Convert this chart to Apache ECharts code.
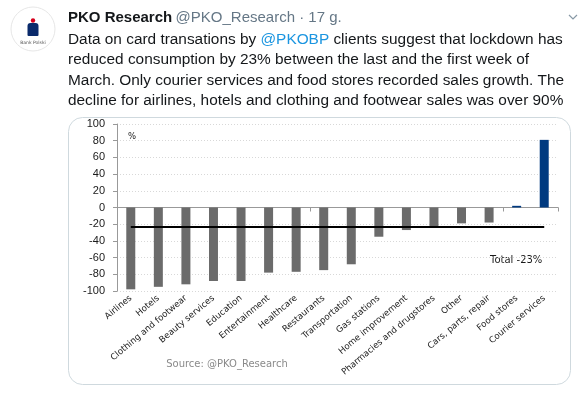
<!DOCTYPE html>
<html><head><meta charset="utf-8">
<script src="https://cdn.jsdelivr.net/npm/echarts@6/dist/echarts.min.js"></script>
<style>html,body{margin:0;padding:0;background:#fff}#c{width:584px;height:393px}</style>
</head><body><div id="c"></div>
<script>
const categories = ["Airlines","Hotels","Clothing and footwear","Beauty services","Education","Entertainment","Healthcare","Restaurants","Transportation","Gas stations","Home improvement","Pharmacies and drugstores","Other","Cars, parts, repair","Food stores","Courier services"];
const values = [-98,-95,-92,-88,-88,-78,-77,-75,-68,-35,-27,-23,-19,-18,2,81];
const total = -23;
const yTicks = [-100,-80,-60,-40,-20,0,20,40,60,80,100];

const chart = echarts.init(document.getElementById('c'), null, {renderer:'canvas'});
const barData = values.map(v => ({value:v, itemStyle:{color: v > 0 ? '#003a80' : '#6b6b6b'}}));
const tweetFont = '"Liberation Sans", Arial, sans-serif';
const lines = [
  ['Data on card transations by ', '@PKOBP', ' clients suggest that lockdown has'],
  ['reduced consumption by 23% between the last and the first week of'],
  ['March. Only courier services and food stores recorded sales growth. The'],
  ['decline for airlines, hotels and clothing and footwear sales was over 90%']
];
const lineY = [41, 61.5, 82, 102.5];
const textGraphics = lines.map((parts, i) => ({
  type:'text', left:68, top:lineY[i]-9,
  style:{
    text: parts.map((p,j)=> j===1 ? '{a|'+p+'}' : '{t|'+p+'}').join(''),
    rich:{
      t:{fontFamily:tweetFont, fontSize:15.4, fill:'#14171a'},
      a:{fontFamily:tweetFont, fontSize:15.4, fill:'#1b95e0'}
    }
  }
}));

chart.setOption({
  animation:false,
  grid:{left:117, right:26, top:124, bottom:102},
  xAxis:[
    {type:'category', data:categories, position:'bottom',
     axisLine:{onZero:true, lineStyle:{color:'#999', width:1}},
     axisTick:{show:true, alignWithLabel:false, length:4, inside:false, lineStyle:{color:'#999'}},
     axisLabel:{show:false}},
    {type:'category', data:categories, position:'bottom',
     axisLine:{show:false, onZero:false}, axisTick:{show:false},
     axisLabel:{show:true, rotate:40, interval:0, margin:6, fontSize:8.7,
       fontFamily:'"DejaVu Sans", sans-serif', color:'#222'}}
  ],
  yAxis:{type:'value', min:-100, max:100, interval:20,
    axisLine:{show:true, lineStyle:{color:'#999'}},
    axisTick:{show:true, length:4, lineStyle:{color:'#999'}},
    axisLabel:{fontSize:11, fontFamily:'"Liberation Sans", Arial, sans-serif', color:'#1a1a1a', margin:12,
      formatter: v => yTicks.includes(v) ? String(v) : ''},
    splitLine:{show:true, lineStyle:{color:'#d8d8d8', type:[1,2], width:1}}
  },
  series:[{
    type:'bar', data:barData, barWidth:9, xAxisIndex:0,
    markLine:{symbol:'none', silent:true, label:{show:false},
      lineStyle:{color:'#000', width:2, type:'solid'},
      data:[[{xAxis:categories[0], yAxis:total},{xAxis:categories[categories.length-1], yAxis:total}]]}
  }],
  graphic:[
    {type:'rect', shape:{x:68.5, y:117.5, width:502, height:267, r:14}, style:{fill:'none', stroke:'#cfd9de', lineWidth:1}, z:-1},
    {type:'circle', shape:{cx:33, cy:29, r:22}, style:{fill:'#fff', stroke:'#e6e6e6', lineWidth:1}},
    {type:'circle', shape:{cx:33, cy:20.5, r:2.2}, style:{fill:'#d6001c'}},
    {type:'rect', shape:{x:27.5, y:23, width:11, height:13, r:[3,3,1,1]}, style:{fill:'#0a2a6b'}},
    {type:'text', x:33, y:43, style:{text:'Bank Polski', fontSize:4.5, fill:'#555', align:'center', verticalAlign:'middle', fontFamily:'"DejaVu Sans"'}},
    {type:'text', left:68, top:10, style:{
      text:'{b|PKO Research} {g|@PKO_Research · 17 g.}',
      rich:{b:{fontFamily:tweetFont, fontSize:15, fontWeight:'bold', fill:'#14171a'},
            g:{fontFamily:tweetFont, fontSize:15, fill:'#657786'}}}},
    {type:'polyline', shape:{points:[[569,15],[573,19],[577,15]]}, style:{stroke:'#8899a6', lineWidth:1.2, fill:'none'}},
    ...textGraphics,
    {type:'text', x:128, y:137, style:{text:'%', fontSize:8.5, fill:'#222', verticalAlign:'middle', fontFamily:'"DejaVu Sans"'}},
    {type:'text', x:490, y:260, style:{text:'Total -23%', fontSize:10, fill:'#1a1a1a', verticalAlign:'middle', fontFamily:'"DejaVu Sans"'}},
    {type:'text', x:227, y:364, style:{text:'Source: @PKO_Research', fontSize:10, fill:'#8a8a8a', align:'center', verticalAlign:'middle', fontFamily:'"DejaVu Sans"'}}
  ]
});
</script></body></html>
